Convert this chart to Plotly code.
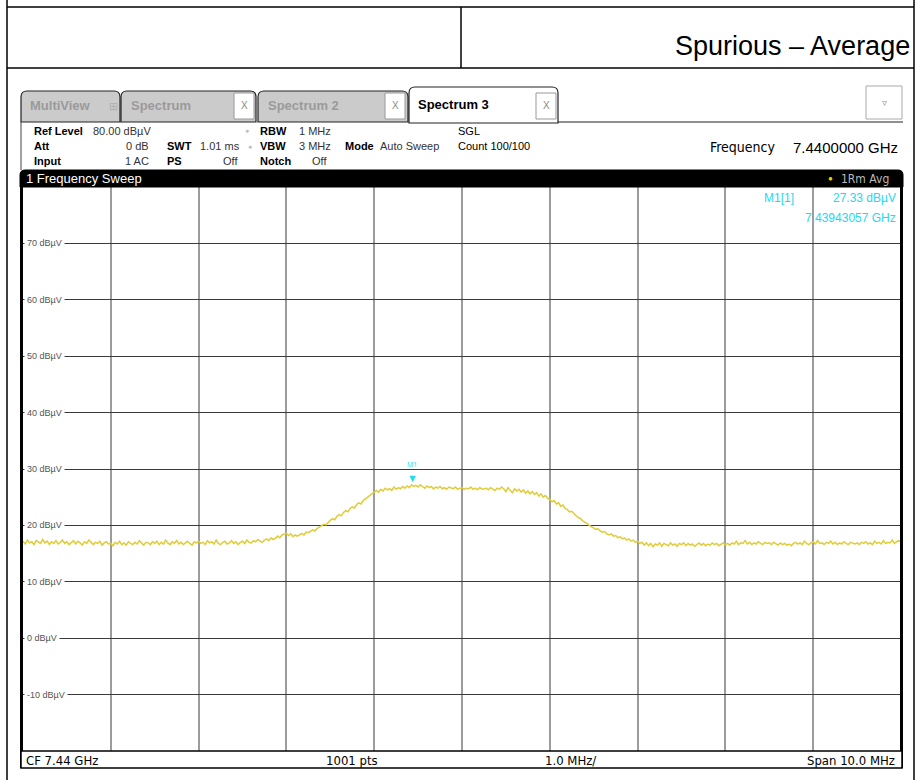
import plotly.graph_objects as go

# sweep settings
center_ghz = 7.44
span_mhz = 10.0
sweep_pts = 401

# trace level (dBuV), one value every 0.025 MHz (20 per row = 0.5 MHz)
level_dbuv = [
    17.2, 16.7, 17.4, 16.9, 17.1, 16.6, 17.3, 17.0, 16.8, 17.5, 16.9, 17.2, 16.6, 17.1, 16.8, 17.3, 16.7, 17.0, 17.4, 16.8,
    17.1, 16.6, 17.0, 17.3, 16.7, 17.2, 16.9, 16.5, 17.1, 16.8, 17.4, 16.9, 16.6, 17.0, 16.8, 17.2, 16.5, 16.9, 17.1, 16.7,
    16.8, 16.4, 17.0, 16.7, 17.2, 16.6, 16.9, 16.5, 17.1, 16.8, 16.6, 17.0, 16.7, 17.3, 16.8, 16.5, 17.0, 16.9, 16.6, 17.1,
    16.8, 17.2, 16.6, 17.0, 16.7, 17.4, 16.9, 16.6, 17.1, 16.8, 17.3, 16.7, 17.0, 16.6, 16.9, 17.2, 16.8, 16.5, 17.1, 16.9,
    17.2, 16.8, 17.0, 16.6, 17.3, 16.9, 17.1, 16.7, 17.4, 16.8, 16.6, 17.0, 17.2, 16.7, 16.9, 17.3, 16.8, 17.1, 16.6, 17.0,
    17.2, 16.8, 17.4, 17.0, 16.9, 17.3, 17.1, 17.5, 17.2, 17.0, 17.4, 17.6, 17.3, 17.8, 17.5, 17.7, 18.1, 17.8, 18.3, 18.5,
    18.6, 18.2, 18.5, 18.0, 18.3, 18.1, 18.4, 18.6, 18.3, 18.8, 18.7, 19.0, 19.2, 19.0, 19.5, 19.7, 19.9, 20.2, 20.1, 20.6,
    20.9, 21.2, 21.0, 21.6, 21.9, 21.7, 22.3, 22.6, 22.4, 23.0, 23.3, 23.1, 23.7, 24.0, 23.8, 24.4, 24.7, 24.9, 25.3, 25.6,
    25.9, 26.2, 25.9, 26.4, 26.1, 26.6, 26.3, 26.5, 26.2, 26.8, 26.4, 26.7, 26.5, 26.9, 26.6, 27.0, 26.7, 27.2, 26.9, 27.1,
    26.8, 27.2, 26.9, 26.6, 27.0, 26.7, 26.9, 26.5, 26.8, 26.6, 26.9, 26.5, 26.7, 26.4, 26.8, 26.6, 26.5, 26.8, 26.4, 26.6,
    26.7, 26.4, 26.6, 26.5, 26.8, 26.4, 26.6, 26.3, 26.7, 26.5, 26.4, 26.6, 26.3, 26.7, 26.5, 26.2, 26.6, 26.4, 26.8, 26.5,
    26.0, 26.7, 26.2, 25.8, 26.5, 26.1, 26.4, 25.9, 26.3, 25.7, 26.1, 25.6, 26.0, 25.5, 25.8, 25.2, 25.6, 25.0, 25.3, 24.8,
    24.6, 24.2, 24.4, 23.8, 24.0, 23.4, 23.6, 23.0, 22.8, 22.4, 22.5, 22.0, 21.7, 21.4, 21.2, 20.8, 20.6, 20.3, 20.0, 19.8,
    19.6, 19.3, 19.4, 19.0, 18.8, 18.9, 18.5, 18.3, 18.5, 18.1, 18.2, 17.8, 18.0, 17.6, 17.8, 17.4, 17.6, 17.2, 17.4, 17.0,
    17.2, 16.8, 17.0, 16.5, 16.9, 16.4, 16.8, 16.2, 16.7, 16.5, 16.9, 16.3, 16.8, 16.6, 16.4, 16.9, 16.5, 16.7, 16.3, 16.8,
    16.6, 16.9, 16.4, 16.8, 16.5, 16.7, 16.3, 16.6, 16.9, 16.5, 16.8, 16.4, 16.7, 16.5, 16.9, 16.6, 16.8, 16.4, 16.7, 16.9,
    16.6, 16.8, 16.5, 16.9, 16.7, 17.2, 16.6, 16.9, 16.8, 17.3, 16.7, 17.0, 16.6, 16.9, 16.7, 17.1, 16.8, 16.6, 17.0, 16.8,
    16.9, 16.6, 17.0, 16.7, 16.5, 16.9, 16.6, 16.8, 16.5, 16.7, 16.4, 16.8, 17.0, 16.7, 16.9, 16.6, 17.2, 16.8, 16.6, 16.9,
    17.1, 16.7, 17.3, 16.8, 16.9, 16.6, 17.0, 16.8, 17.2, 16.7, 17.0, 16.6, 16.9, 16.7, 17.1, 16.8, 16.6, 17.0, 16.8, 16.7,
    16.9, 16.6, 17.0, 16.8, 17.1, 16.7, 16.9, 16.6, 17.2, 16.8, 17.0, 16.7, 17.3, 16.8, 17.0, 16.9, 17.4, 16.8, 17.1, 17.3,
    17.0,
]

marker_freq = 7.43943057
marker_level = 27.33
ylabels = [70, 60, 50, 40, 30, 20, 10, 0, -10]

f_start = center_ghz - span_mhz / 2000
f_stop = center_ghz + span_mhz / 2000
step = (f_stop - f_start) / (sweep_pts - 1)
freqs = [f_start + i * step for i in range(sweep_pts)]

W, H = 917, 780
def X(p): return p / W
def Y(p): return 1 - p / H

SANS = "Liberation Sans, Arial, sans-serif"
NARROW = "Liberation Sans Narrow, DejaVu Sans Condensed, Liberation Sans, sans-serif"
CYAN = "#22d8f2"
YELLOW = "#e0cc38"

fig = go.Figure()
fig.add_trace(go.Scatter(x=freqs, y=level_dbuv, mode="lines",
                         line=dict(color=YELLOW, width=1.5), hoverinfo="skip"))

shapes = []
def line(x0, y0, x1, y1, color="black", width=1.5):
    shapes.append(dict(type="line", xref="paper", yref="paper",
                       x0=X(x0), y0=Y(y0), x1=X(x1), y1=Y(y1),
                       line=dict(color=color, width=width)))

def rect(x0, y0, x1, y1, fill, color="black", width=1):
    shapes.append(dict(type="rect", xref="paper", yref="paper",
                       x0=X(x0), y0=Y(y0), x1=X(x1), y1=Y(y1),
                       fillcolor=fill, line=dict(color=color, width=width)))

def tab(x0, x1, top, bottom, fill, r=6):
    p = (f"M {X(x0)},{Y(bottom)} L {X(x0)},{Y(top + r)} Q {X(x0)},{Y(top)} {X(x0 + r)},{Y(top)} "
         f"L {X(x1 - r)},{Y(top)} Q {X(x1)},{Y(top)} {X(x1)},{Y(top + r)} L {X(x1)},{Y(bottom)} Z")
    shapes.append(dict(type="path", xref="paper", yref="paper", path=p,
                       fillcolor=fill, line=dict(color="#222", width=1.2)))

# page frame / table
line(7, 0, 7, 780)
line(914, 0, 914, 780)
line(7, 7, 914, 7)
line(7, 68, 914, 68)
line(461, 7, 461, 68)

# tabs
line(556, 122, 903, 122, "#222", 1.2)
tab(21, 120, 91, 122, "#cbcbcb")
tab(121, 256, 91, 122, "#cbcbcb")
tab(258, 408, 91, 122, "#cbcbcb")
tab(409, 558, 87, 123, "white")
for bx in [234, 385, 536]:
    rect(bx, 93, bx + 20, 119, "white", "#999", 1)
rect(866, 86, 902, 119, "white", "#aaa", 1)
line(21, 122, 21, 170, "#444", 1)

# black title bar of the sweep window
bar = (f"M {X(20)},{Y(187)} L {X(20)},{Y(175)} Q {X(20)},{Y(170)} {X(25)},{Y(170)} "
       f"L {X(898)},{Y(170)} Q {X(903)},{Y(170)} {X(903)},{Y(175)} L {X(903)},{Y(187)} Z")
shapes.append(dict(type="path", xref="paper", yref="paper", path=bar,
                   fillcolor="black", line=dict(color="black", width=1)))
rect(20, 186, 23, 768, "black", "black", 0)
rect(900, 186, 903, 768, "black", "black", 0)
rect(21, 751, 902, 768, "white", "black", 1.5)

ann = []
def txt(x, y, s, size=11, color="black", anchor="left", font=SANS, bold=False, **kw):
    if bold:
        s = f"<b>{s}</b>"
    ann.append(dict(x=X(x), y=Y(y), xref="paper", yref="paper", text=s, showarrow=False,
                    xanchor=anchor, yanchor="middle",
                    font=dict(size=size, color=color, family=font), **kw))

txt(912, 46, "Spurious – Average", 27, anchor="right")

txt(28, 106, "MultiView", 13, "#9a9a9a", bold=True)
txt(113, 106, "⊞", 11, "#b0b0b0", anchor="center")
txt(129, 106, "Spectrum", 13, "#9a9a9a", bold=True)
txt(266, 106, "Spectrum 2", 13, "#9a9a9a", bold=True)
txt(416, 105, "Spectrum 3", 13, "black", bold=True)
for bx in [244, 395, 546]:
    txt(bx, 106, "X", 10, "#8a8a8a", anchor="center")
txt(884, 103, "▿", 10, "#999", anchor="center")

txt(32, 131, "Ref Level", bold=True)
txt(91, 131, "80.00 dBµV", color="#333")
txt(247, 131, "●", 7, "#bbb", anchor="center")
txt(258, 131, "RBW", bold=True)
txt(297, 131, "1 MHz", color="#333")
txt(456, 131, "SGL")
txt(32, 146, "Att", bold=True)
txt(151, 146, "0 dB", color="#333", anchor="right")
txt(165, 146, "SWT", bold=True)
txt(198, 146, "1.01 ms", color="#333")
txt(250, 146, "●", 7, "#bbb", anchor="center")
txt(258, 146, "VBW", bold=True)
txt(297, 146, "3 MHz", color="#333")
txt(343, 146, "Mode", bold=True)
txt(378, 146, "Auto Sweep", color="#333")
txt(456, 146, "Count 100/100")
txt(32, 161, "Input", bold=True)
txt(151, 161, "1 AC", color="#333", anchor="right")
txt(165, 161, "PS", bold=True)
txt(240, 161, "Off", color="#333", anchor="right")
txt(258, 161, "Notch", bold=True)
txt(329, 161, "Off", color="#333", anchor="right")
txt(708, 147, "Frequency", 14, font=NARROW)
txt(900, 147, "7.4400000 GHz", 15, anchor="right")

txt(24, 179, "1 Frequency Sweep", 13, "white")
txt(830, 179, "●", 8, "#e8d000", anchor="center")
txt(891, 179, "1Rm Avg", 12, "#bbbbbb", anchor="right", font=NARROW)

txt(762, 198, "M1[1]", 12, CYAN)
txt(898, 198, "27.33 dBµV", 12, CYAN, anchor="right")
txt(898, 218, "7.43943057 GHz", 12, CYAN, anchor="right")

txt(24, 760, "CF 7.44 GHz", 13, font=NARROW)
txt(352, 760, "1001 pts", 13, font=NARROW, anchor="center")
txt(543, 760, "1.0 MHz/", 13, font=NARROW)
txt(897, 760, "Span 10.0 MHz", 13, font=NARROW, anchor="right")

for v in ylabels:
    ann.append(dict(x=X(24), y=v, xref="paper", yref="y", text=f"{v} dBµV", showarrow=False,
                    xanchor="left", yanchor="middle", bgcolor="white", borderpad=2,
                    font=dict(size=9, color="#555", family=SANS)))

ann.append(dict(x=marker_freq, y=marker_level, xref="x", yref="y", text="▼", showarrow=False,
                xanchor="center", yanchor="bottom", yshift=-3, font=dict(size=11, color=CYAN)))
ann.append(dict(x=marker_freq, y=marker_level, xref="x", yref="y", text="M1", showarrow=False,
                xanchor="center", yanchor="bottom", yshift=13, font=dict(size=7, color=CYAN)))

fig.update_layout(
    width=W, height=H,
    margin=dict(l=0, r=0, t=0, b=0),
    paper_bgcolor="white", plot_bgcolor="white",
    showlegend=False,
    shapes=shapes, annotations=ann,
    xaxis=dict(domain=[X(23), X(901)], range=[f_start, f_stop], dtick=span_mhz / 10000,
               tick0=f_start, showgrid=True, gridcolor="#9c9c9c", gridwidth=1.5,
               zeroline=False, showticklabels=False, ticks=""),
    yaxis=dict(domain=[Y(751), Y(187)], range=[-20, 80], dtick=10,
               showgrid=True, gridcolor="#3a3a3a", gridwidth=1,
               zeroline=False, showticklabels=False, ticks=""),
)

fig.write_html("out.html", config={"displayModeBar": False},
               post_script="document.body.style.margin='0';document.body.style.overflow='hidden';")
